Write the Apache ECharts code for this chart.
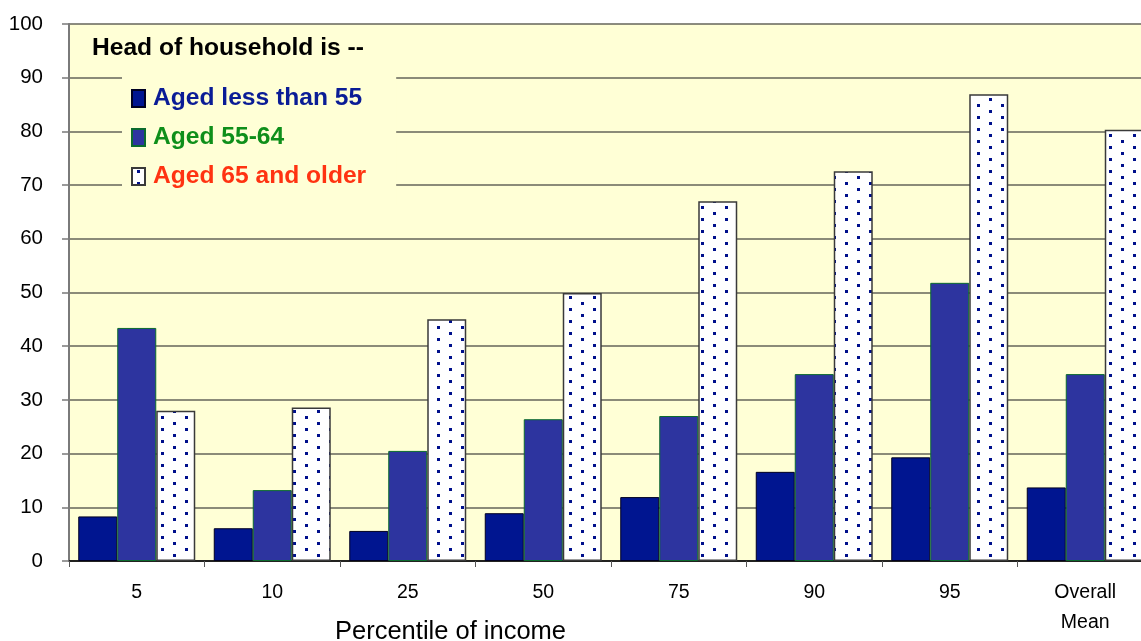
<!DOCTYPE html>
<html>
<head>
<meta charset="utf-8">
<script src="https://cdn.jsdelivr.net/npm/echarts@6/dist/echarts.min.js"></script>
<style>
html,body{margin:0;padding:0;background:#fff;overflow:hidden;width:1141px;height:641px;}
#chart{width:1153px;height:641px;}
</style>
</head>
<body>
<div id="chart"></div>
<script>
var categories = ['5', '10', '25', '50', '75', '90', '95', 'Overall\nMean'];
var seriesNames = ['Aged less than 55', 'Aged 55-64', 'Aged 65 and older'];
var agedUnder55 = [8.3, 6.1, 5.6, 8.9, 11.9, 16.6, 19.3, 13.7];
var aged55to64 = [43.4, 13.2, 20.5, 26.4, 27.0, 34.8, 51.8, 34.8];
var aged65plus = [28.0, 28.6, 45.0, 49.9, 67.0, 72.6, 86.9, 80.3];
var yTicks = [0, 10, 20, 30, 40, 50, 60, 70, 80, 90, 100];

var FONT = '"Liberation Sans", Arial, sans-serif';

// dotted pattern for third series
var pc = document.createElement('canvas');
pc.width = 24; pc.height = 12;
var pctx = pc.getContext('2d');
pctx.fillStyle = '#ffffff';
pctx.fillRect(0, 0, 24, 12);
pctx.fillStyle = '#00108C';
pctx.fillRect(5, 2, 3, 3);
pctx.fillRect(17, 8, 3, 3);

var chart = echarts.init(document.getElementById('chart'), null, {renderer: 'canvas'});
var option = {
  animation: false,
  backgroundColor: '#ffffff',
  textStyle: {fontFamily: FONT},
  title: {
    text: 'Head of household is --',
    left: 92, top: 36, padding: 0,
    textStyle: {fontFamily: FONT, fontSize: 24.6, fontWeight: 'bold', color: '#000000'}
  },
  legend: {
    orient: 'vertical',
    left: 122, top: 70,
    padding: [16, 30, 16, 9],
    backgroundColor: '#FFFFD6',
    icon: 'rect',
    itemWidth: 13, itemHeight: 17,
    itemGap: 14,
    textStyle: {fontFamily: FONT, fontSize: 24.6, fontWeight: 'bold', lineHeight: 24, padding: [0, 0, 0, 3]},
    data: [
      {name: seriesNames[0], textStyle: {color: '#0A1C96'}},
      {name: seriesNames[1], textStyle: {color: '#0E8F1A'}},
      {name: seriesNames[2], textStyle: {color: '#FF3311'}}
    ]
  },
  grid: {
    left: 69, top: 24, right: 0, bottom: 80,
    show: true, backgroundColor: '#FFFFD6', borderWidth: 0
  },
  xAxis: {
    type: 'category',
    data: categories,
    axisLine: {show: true, lineStyle: {color: '#000000', width: 1.5}},
    axisTick: {show: true, length: 6, lineStyle: {color: '#555555', width: 1}},
    axisLabel: {fontFamily: FONT, fontSize: 19.5, color: '#000000', margin: 17, lineHeight: 30},
    splitLine: {show: false}
  },
  yAxis: {
    type: 'value',
    min: 0, max: 100, interval: 10,
    axisLine: {show: true, lineStyle: {color: '#7a7a7a', width: 2}},
    axisTick: {show: true, length: 7, lineStyle: {color: '#7a7a7a', width: 1.5}},
    axisLabel: {fontFamily: FONT, fontSize: 20.5, color: '#000000', margin: 26,
      formatter: function (v) { return yTicks.indexOf(v) >= 0 ? String(v) : ''; }},
    splitLine: {show: true, lineStyle: {color: '#64645a', width: 1.7}}
  },
  graphic: [{
    type: 'text',
    left: 335, top: 619,
    style: {text: 'Percentile of income', font: '25.5px ' + FONT, fill: '#000000'}
  }],
  series: [
    {
      name: seriesNames[0], type: 'bar', data: agedUnder55,
      barWidth: 39, barGap: '0%',
      itemStyle: {color: '#001590', borderColor: '#000022', borderWidth: 1}
    },
    {
      name: seriesNames[1], type: 'bar', data: aged55to64,
      barWidth: 39, barGap: '0%',
      itemStyle: {color: '#2D349F', borderColor: '#0B6B2E', borderWidth: 1}
    },
    {
      name: seriesNames[2], type: 'bar', data: aged65plus,
      barWidth: 39, barGap: '0%',
      itemStyle: {color: {image: pc, repeat: 'repeat'}, borderColor: '#3a3a3a', borderWidth: 1.5}
    }
  ]
};
chart.setOption(option);
</script>
</body>
</html>
